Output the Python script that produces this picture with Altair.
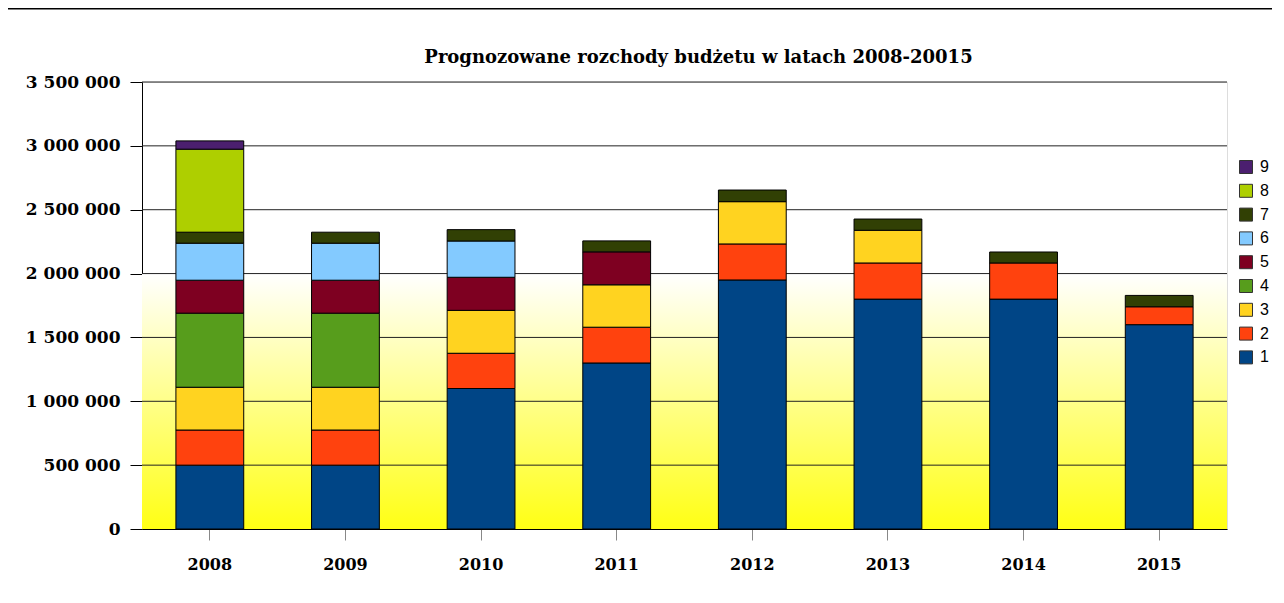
import altair as alt
import pandas as pd

years = ["2008", "2009", "2010", "2011", "2012", "2013", "2014", "2015"]
series_names = ["1", "2", "3", "4", "5", "6", "7", "8", "9"]
series_colors = ["#004586", "#ff420e", "#ffd320", "#579d1c", "#7e0021",
                 "#83caff", "#314004", "#aecf00", "#4b1f6f"]

s1 = [500000, 500000, 1100000, 1300000, 1950000, 1800000, 1800000, 1600000]
s2 = [275000, 275000, 276000, 280000, 282000, 283000, 283000, 140000]
s3 = [335000, 335000, 336000, 332000, 331000, 256000, None, None]
s4 = [580000, 580000, None, None, None, None, None, None]
s5 = [258000, 258000, 259000, 258000, None, None, None, None]
s6 = [290000, 290000, 284000, None, None, None, None, None]
s7 = [86000, 86000, 89000, 86000, 91000, 88000, 86000, 89000]
s8 = [650000, None, None, None, None, None, None, None]
s9 = [65000, None, None, None, None, None, None, None]

y_ticks = [0, 500000, 1000000, 1500000, 2000000, 2500000, 3000000, 3500000]
gradient_top = 2000000

title_text = "Prognozowane rozchody budżetu w latach 2008-20015"

all_series = [s1, s2, s3, s4, s5, s6, s7, s8, s9]
rows = []
for name, vals in zip(series_names, all_series):
    for yr, v in zip(years, vals):
        if v is not None:
            rows.append({"year": yr, "series": name, "order": int(name), "value": v})
df = pd.DataFrame(rows)

grid_df = pd.DataFrame({"v": y_ticks[1:]})

W, H = 1085, 447

y_scale = alt.Scale(domain=[0, 3500000], nice=False, zero=True)
x_scale = alt.Scale(paddingInner=0.5, paddingOuter=0.25)

background = alt.Chart(pd.DataFrame({"a": [0]})).mark_rect(
    color=alt.Gradient(
        gradient="linear",
        stops=[alt.GradientStop(color="#ffffff", offset=0),
               alt.GradientStop(color="#ffff14", offset=1)],
        x1=0, x2=0, y1=0, y2=1,
    ),
    strokeWidth=0,
).encode(
    x=alt.value(0),
    x2=alt.value(W),
    y=alt.datum(gradient_top, scale=y_scale),
    y2=alt.datum(0),
)

grid = alt.Chart(grid_df).mark_rule(color="#222222", strokeWidth=1).encode(
    y=alt.Y("v:Q", scale=y_scale),
)

# page header line (decoration above the chart)
header = alt.Chart(pd.DataFrame({"a": [0]})).mark_rule(
    color="#000000", strokeWidth=2
).encode(
    x=alt.value(-134), x2=alt.value(1134), y=alt.value(-73.5),
)

bars = alt.Chart(df).mark_bar(stroke="#000000", strokeWidth=1).encode(
    x=alt.X("year:N", scale=x_scale, sort=years,
            axis=alt.Axis(title=None, labelAngle=0, labelFont="DejaVu Serif",
                          labelFontWeight="bold", labelFontSize=16,
                          labelColor="#000000", tickColor="#888888",
                          tickSize=11, labelPadding=16, domainColor="#000000",
                          grid=False)),
    y=alt.Y("value:Q", stack="zero", scale=y_scale,
            axis=alt.Axis(title=None, values=y_ticks, labelFont="DejaVu Serif",
                          labelFontWeight="bold", labelFontSize=17,
                          labelColor="#000000", tickColor="#000000",
                          tickSize=12, labelPadding=10, domainColor="#000000",
                          grid=False,
                          labelExpr="replace(format(datum.value, ','), regexp(',', 'g'), ' ')")),
    color=alt.Color("series:N",
                    scale=alt.Scale(domain=series_names[::-1], range=series_colors[::-1]),
                    legend=alt.Legend(title=None, orient="none", legendX=1096, legendY=77,
                                      symbolType="square", symbolSize=169,
                                      symbolStrokeColor="#333333", symbolStrokeWidth=1,
                                      labelFont="Liberation Sans", labelFontSize=16,
                                      labelColor="#000000", labelOffset=6,
                                      rowPadding=5.8, padding=0)),
    order=alt.Order("order:Q", sort="ascending"),
)

chart = alt.layer(background, grid, bars, header).properties(
    width=W, height=H,
    title=alt.TitleParams(title_text, font="DejaVu Serif", fontSize=18,
                          fontWeight="bold", color="#000000", anchor="middle",
                          dx=14, dy=66, offset=7),
    autosize=alt.AutoSizeParams(type="none"),
    padding={"left": 134, "top": 74, "right": 45, "bottom": 50},
).configure_view(stroke="#000000", strokeWidth=1).configure(background="#ffffff")

chart.save("out.html", embed_options={"renderer": "svg", "actions": False})
